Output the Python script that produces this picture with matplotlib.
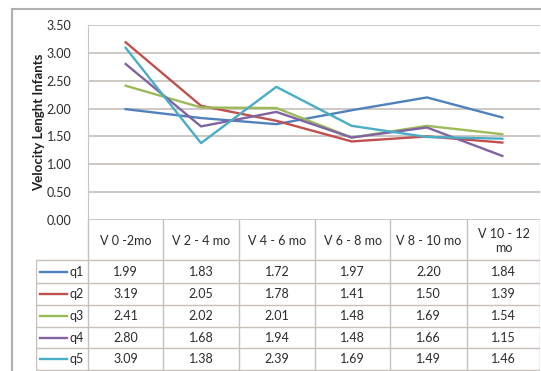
import numpy as np
import matplotlib.pyplot as plt
from matplotlib.patches import Rectangle

periods = ["V 0 -2mo", "V 2 - 4 mo", "V 4 - 6 mo", "V 6 - 8 mo", "V 8 - 10 mo", "V 10 - 12\nmo"]
q1 = [1.99, 1.83, 1.72, 1.97, 2.20, 1.84]
q2 = [3.19, 2.05, 1.78, 1.41, 1.50, 1.39]
q3 = [2.41, 2.02, 2.01, 1.48, 1.69, 1.54]
q4 = [2.80, 1.68, 1.94, 1.48, 1.66, 1.15]
q5 = [3.09, 1.38, 2.39, 1.69, 1.49, 1.46]
names = ["q1", "q2", "q3", "q4", "q5"]
series = [q1, q2, q3, q4, q5]
colors = ["#4F81BD", "#C0504D", "#9BBB59", "#8064A2", "#4BACC6"]
yticks = [0.0, 0.5, 1.0, 1.5, 2.0, 2.5, 3.0, 3.5]

plt.rcParams['font.family'] = ['Lato', 'DejaVu Sans']
W, H = 541, 371
fig = plt.figure(figsize=(W / 100, H / 100), dpi=100)
txt_c = "#2a2a2a"
fs = 9

def box(x0, y0, x1, y1):
    # pixel box (top-left origin) -> figure fraction rect
    return [x0 / W, 1 - y1 / H, (x1 - x0) / W, (y1 - y0) / H]

# outer chart frame
fig.patches.append(Rectangle((12 / W, -0.1), 1.2, 1 - 9 / H + 0.1, transform=fig.transFigure,
                             fill=False, edgecolor="#b0b0b0", linewidth=1.5))

grid_c = "#c9c4bf"
ax = fig.add_axes(box(88, 25, 540, 220))
x = np.arange(len(periods)) + 0.5
for vals, c in zip(series, colors):
    ax.plot(x, vals, color=c, linewidth=1.7)
ax.set_xlim(0, len(periods))
ax.set_ylim(0, 3.5)
ax.set_yticks(yticks)
ax.set_yticklabels([f"{v:.2f}" for v in yticks], fontsize=fs, color=txt_c)
ax.set_xticks([])
ax.grid(axis="y", color=grid_c, linewidth=1.3)
ax.set_axisbelow(True)
for s in ["top", "right", "bottom"]:
    ax.spines[s].set_visible(False)
ax.spines["left"].set_color(grid_c)
ax.tick_params(axis="y", length=0, pad=12)
ax.set_ylabel("Velocity Lenght Infants", fontsize=9.5, fontweight="bold", color="#202020")
ax.yaxis.set_label_coords(-0.094, 0.5)

# data table underneath
tb = fig.add_axes(box(36, 220, 540, 371))
tb.set_xlim(36, 540)
tb.set_ylim(371, 220)
tb.axis("off")
cols = [88, 163, 239, 315, 390, 467, 540]
rows = [260, 283, 305, 327, 348, 370]
lc = "#c8c0b8"
for cx in cols:
    tb.plot([cx, cx], [220, 370], color=lc, linewidth=1)
tb.plot([36, 36], [260, 370], color=lc, linewidth=1)
for ry in rows:
    tb.plot([36, 540], [ry, ry], color=lc, linewidth=1)
for j, p in enumerate(periods):
    tb.text((cols[j] + cols[j + 1]) / 2, 241, p, ha="center", va="center",
            fontsize=fs, color=txt_c, linespacing=1.25)
for i, (n, vals, c) in enumerate(zip(names, series, colors)):
    cy = (rows[i] + rows[i + 1]) / 2
    tb.plot([40, 67], [cy, cy], color=c, linewidth=1.7)
    tb.text(84, cy, n, ha="right", va="center", fontsize=fs, color=txt_c)
    for j, v in enumerate(vals):
        tb.text((cols[j] + cols[j + 1]) / 2, cy, f"{v:.2f}", ha="center", va="center",
                fontsize=fs, color=txt_c)

fig.savefig("out.png", dpi=100, facecolor="white")
